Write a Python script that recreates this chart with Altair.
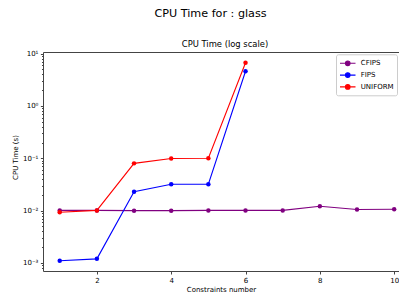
import altair as alt
import pandas as pd

x_cfips = [1, 2, 3, 4, 5, 6, 7, 8, 9, 10]
cfips = [0.0101, 0.0101, 0.0100, 0.0100, 0.0101, 0.0101, 0.0101, 0.0121, 0.0105, 0.0106]
x_fips = [1, 2, 3, 4, 5, 6]
fips = [0.0011, 0.0012, 0.0230, 0.032, 0.032, 4.6]
x_uniform = [1, 2, 3, 4, 5, 6]
uniform = [0.0093, 0.0101, 0.080, 0.099, 0.100, 6.7]

series_names = ["CFIPS", "FIPS", "UNIFORM"]
series_colors = ["#800080", "#0000ff", "#ff0000"]

x_ticks = [2, 4, 6, 8, 10]
y_major = [0.001, 0.01, 0.1, 1, 10]
y_lo, y_hi = 10 ** -3.153, 10 ** 1.0306
y_minor = [m * 10.0 ** e for e in range(-4, 1) for m in range(2, 10)]
y_ticks = sorted(set(y_major + [v for v in y_minor if y_lo <= v <= y_hi]))

rows = []
for name, xs, ys in [("CFIPS", x_cfips, cfips), ("FIPS", x_fips, fips), ("UNIFORM", x_uniform, uniform)]:
    for i, (a, b) in enumerate(zip(xs, ys)):
        rows.append({"series": name, "x": a, "y": b, "order": i})
df = pd.DataFrame(rows)

FONT = "DejaVu Sans"
is_major = "abs(log(datum.value)/LN10 - round(log(datum.value)/LN10)) < 0.000001"
label_expr = (
    "datum.value >= 9.99 && datum.value <= 10.01 ? '10¹' : "
    "datum.value >= 0.999 && datum.value <= 1.001 ? '10⁰' : "
    "datum.value >= 0.0999 && datum.value <= 0.1001 ? '10⁻¹' : "
    "datum.value >= 0.00999 && datum.value <= 0.01001 ? '10⁻²' : "
    "datum.value >= 0.000999 && datum.value <= 0.001001 ? '10⁻³' : ''"
)

color = alt.Color(
    "series:N",
    scale=alt.Scale(domain=series_names, range=series_colors),
    legend=alt.Legend(
        title=None,
        orient="none",
        legendX=293,
        legendY=2.3,
        padding=3,
        strokeColor="#cccccc",
        fillColor="white",
        cornerRadius=2,
        labelFontSize=7,
        labelFont=FONT,
        labelColor="#000",
        labelOffset=7,
        rowPadding=0.8,
        symbolOffset=2.75,
        symbolType="M-1.55,0 L1.55,0 M-0.46,0 A0.46,0.46 0 1,1 0.46,0 A0.46,0.46 0 1,1 -0.46,0",
        symbolSize=100,
        symbolStrokeWidth=1.1,
    ),
)

x_scale = alt.Scale(domain=[0.55, 10.13], nice=False, zero=False)
x_bottom = alt.X(
    "x:Q",
    scale=x_scale,
    axis=alt.Axis(values=x_ticks, title="Constraints number", grid=False,
                  tickSize=3, labelFontSize=7, titleFontSize=7, titleFontWeight="normal",
                  labelPadding=2, titlePadding=2, domain=True, domainColor="#444", domainWidth=1,
                  tickColor="#444", labelColor="#000", titleColor="#000",
                  labelFont=FONT, titleFont=FONT, labelFlush=False),
)
x_top = alt.X(
    "x:Q",
    scale=x_scale,
    axis=alt.Axis(orient="top", labels=False, ticks=False, title=None, grid=False,
                  domain=True, domainColor="#444", domainWidth=1),
)
y_enc = alt.Y(
    "y:Q",
    scale=alt.Scale(type="log", domain=[y_lo, y_hi], nice=False),
    axis=alt.Axis(values=y_ticks, labelExpr=label_expr, title="CPU Time (s)", grid=False,
                  tickSize={"condition": {"test": is_major, "value": 2.6}, "value": 1.5},
                  labelFontSize=7, titleFontSize=7, titleFontWeight="normal",
                  labelPadding=2.5, domain=True, domainColor="#444", domainWidth=1,
                  tickColor="#444", labelColor="#000", titleColor="#000",
                  labelFont=FONT, titleFont=FONT, labelFlush=False, labelOverlap=False,
                  titleX=-28, titleY=105, titleAngle=270, titleAlign="center",
                  titleBaseline="middle"),
)

base = alt.Chart(df)
lines = base.mark_line(strokeWidth=1.1).encode(x=x_bottom, y=y_enc, color=color, order="order:Q")
points = base.mark_point(filled=True, size=20, opacity=1).encode(x=x_top, y=y_enc, color=color)

subtitle = alt.Chart(pd.DataFrame({"t": ["CPU Time (log scale)"]})).mark_text(
    font=FONT, fontSize=8.4, color="#000", baseline="middle", align="center"
).encode(text="t:N", x=alt.value(182), y=alt.value(-8.2))

chart = (
    alt.layer(lines, points, subtitle)
    .resolve_axis(x="independent")
    .properties(
        width=356,
        height=219,
        autosize=alt.AutoSizeParams(type="none"),
        padding={"left": 35, "top": 44, "right": 0, "bottom": 23},
        title=alt.TitleParams(
            text="CPU Time for : glass",
            fontSize=11.2,
            font=FONT,
            fontWeight="normal",
            color="#000",
            anchor="middle",
            dx=-10.5,
            offset=21,
        ),
    )
    .configure_view(stroke=None)
)

chart.save("out.html", embed_options={"renderer": "svg", "actions": False})
